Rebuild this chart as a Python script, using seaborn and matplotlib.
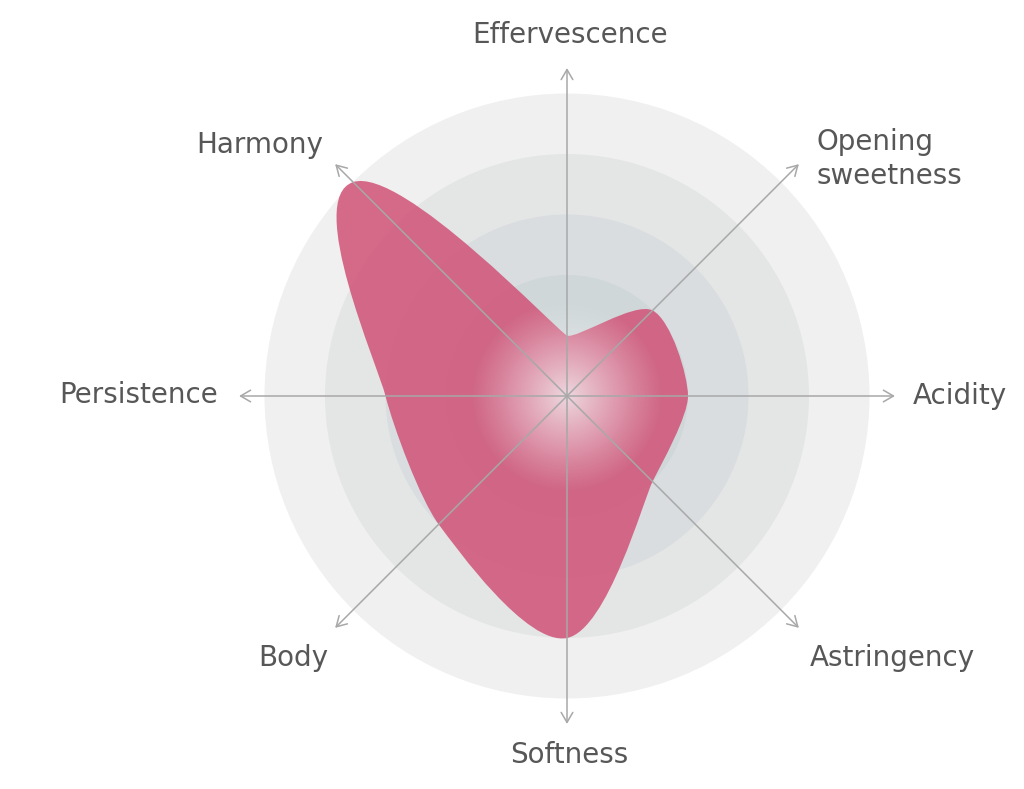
import numpy as np
import matplotlib
matplotlib.use("Agg")
import matplotlib.pyplot as plt
from matplotlib.path import Path
from matplotlib.patches import PathPatch, Circle
import seaborn as sns

# data
categories = ["Effervescence", "Opening sweetness", "Acidity", "Astringency",
              "Softness", "Body", "Persistence", "Harmony"]
values = [1, 2, 2, 2, 4, 3, 3, 5]
levels = [5, 4, 3, 2, 1]

ring_colors = ["#f0f0f0", "#e4e6e6", "#d9dde0", "#cfd7d9", "#dde1e3"]
area_color = "#d15176"
text_color = "#575757"
axis_color = "#a8a8a8"

sns.set_theme(style="white")
plt.rcParams["font.family"] = ["DejaVu Sans"]

# clockwise from top
angles = np.deg2rad(90 - 45 * np.arange(len(categories)))

fig = plt.figure(figsize=(10.24, 7.89), dpi=100)
ax = fig.add_axes([0, 0, 1, 1])
scale = 60.5
ax.set_xlim(-567 / scale, (1024 - 567) / scale)
ax.set_ylim(-(789 - 396) / scale, 396 / scale)
ax.set_aspect("equal")
ax.axis("off")

# background rings
for r, c in zip(levels, ring_colors):
    ax.add_patch(Circle((0, 0), r, facecolor=c, edgecolor="none", zorder=1))


def smooth_closed(pts, radii, k=0.17):
    # tangent along next-prev, handle length grows with the point's radius
    n = len(pts)
    left, right = [], []
    for i in range(n):
        p, prev, nxt = pts[i], pts[i - 1], pts[(i + 1) % n]
        t = (nxt - prev) / np.linalg.norm(nxt - prev)
        h = k * radii[i]
        left.append(p - h * t)
        right.append(p + h * t)
    verts = [pts[0]]
    codes = [Path.MOVETO]
    for i in range(n):
        j = (i + 1) % n
        verts += [right[i], left[j], pts[j]]
        codes += [Path.CURVE4] * 3
    return Path(verts, codes)


pts = np.column_stack([np.cos(angles) * values, np.sin(angles) * values])
ax.add_patch(PathPatch(smooth_closed(pts, values), facecolor=area_color,
                       edgecolor="none", alpha=0.85, zorder=2))

# center glow
g = np.linspace(-1.7, 1.7, 300)
gx, gy = np.meshgrid(g, g)
rr = np.sqrt(gx ** 2 + gy ** 2) / 1.6
glow = np.zeros((300, 300, 4))
glow[..., :3] = 0.96
glow[..., 3] = np.clip(1 - rr, 0, 1) ** 1.1 * 0.8
ax.imshow(glow, extent=(-1.7, 1.7, -1.7, 1.7), zorder=3, interpolation="bilinear")

# axes with arrows
arrow_len = 5.42
for a in angles:
    ax.annotate("", xy=(arrow_len * np.cos(a), arrow_len * np.sin(a)), xytext=(0, 0),
                arrowprops=dict(arrowstyle="->,head_length=0.6,head_width=0.35",
                                color=axis_color, lw=1.1, shrinkA=0, shrinkB=0),
                zorder=4)

# labels (anchor x, baseline y, alignment)
label_pos = [
    (0.05, 5.835, "center"),
    (4.13, 4.066, "left"),
    (5.72, -0.13, "left"),
    (4.02, -4.46, "left"),
    (0.04, -6.06, "center"),
    (-3.95, -4.46, "right"),
    (-5.77, -0.116, "right"),
    (-4.03, 4.01, "right"),
]
for lab, (x, y, ha) in zip(categories, label_pos):
    if lab == "Opening sweetness":
        ax.text(x, y, "Opening", ha=ha, va="baseline", fontsize=20,
                color=text_color, zorder=5)
        ax.text(x, 3.504, "sweetness", ha=ha, va="baseline", fontsize=20,
                color=text_color, zorder=5)
        continue
    ax.text(x, y, lab, ha=ha, va="baseline", fontsize=20, color=text_color, zorder=5)

fig.savefig("out.png", dpi=100)
